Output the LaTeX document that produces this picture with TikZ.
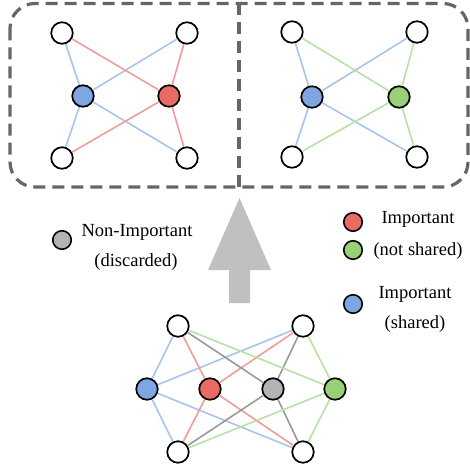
\documentclass[tikz,border=0pt]{standalone}
\usepackage{fontspec}
\setmainfont{Liberation Serif}
\definecolor{fillblue}{HTML}{7EA6E0}
\definecolor{fillred}{HTML}{EA6B66}
\definecolor{fillgreen}{HTML}{97D077}
\definecolor{fillgray}{HTML}{B3B3B3}
\definecolor{edgeblue}{HTML}{A9C4EB}
\definecolor{edgered}{HTML}{F19C99}
\definecolor{edgegreen}{HTML}{B9E0A5}
\definecolor{edgegray}{HTML}{999999}
\definecolor{framegray}{HTML}{666666}
\definecolor{arrowgray}{HTML}{C0C0C0}

\begin{document}
\begin{tikzpicture}[
        x=1pt, y=-1pt,
        neuron/.style={circle, draw, line width=1.7pt, minimum size=21.5pt, inner sep=0pt, fill=white},
        key/.style={circle, draw, line width=1.6pt, minimum size=18.5pt, inner sep=0pt},
        caption/.style={font=\fontsize{18.5}{22}\selectfont, inner sep=0pt, anchor=base},
        link/.style={line width=1.6pt},
        frame/.style={draw=framegray, line width=3.2pt, dash pattern=on 12pt off 7pt}
      ]
      \useasboundingbox (0,0) rectangle (470,468);
      % frames of the two pruned nets
      \draw[frame, rounded corners=25pt] (10,3.5) rectangle (468,187);
      \draw[frame] (239,3.5) -- (239,191);

      % left net
      \node[neuron] (a1) at (62,33) {};
      \node[neuron] (a2) at (187,33) {};
      \node[neuron, fill=fillblue] (ab) at (83,96) {};
      \node[neuron, fill=fillred] (ar) at (169,96) {};
      \node[neuron] (a3) at (62,158) {};
      \node[neuron] (a4) at (187,158) {};

      % right net
      \node[neuron] (b1) at (292,32) {};
      \node[neuron] (b2) at (417,32) {};
      \node[neuron, fill=fillblue] (bb) at (312,97) {};
      \node[neuron, fill=fillgreen] (bg) at (399,97) {};
      \node[neuron] (b3) at (292,157) {};
      \node[neuron] (b4) at (417,157) {};

      % full net
      \node[neuron] (c1) at (178,326) {};
      \node[neuron] (c2) at (303,326) {};
      \node[neuron, fill=fillblue] (cb) at (147,389) {};
      \node[neuron, fill=fillred] (cr) at (210,389) {};
      \node[neuron, fill=fillgray] (cx) at (273,389) {};
      \node[neuron, fill=fillgreen] (cg) at (335,389) {};
      \node[neuron] (c3) at (178,452) {};
      \node[neuron] (c4) at (303,452) {};

      \foreach \m/\c in {ab/edgeblue, ar/edgered}
        \foreach \o in {a1,a2,a3,a4}
          \draw[link, draw=\c] (\m) -- (\o);
      \foreach \m/\c in {bb/edgeblue, bg/edgegreen}
        \foreach \o in {b1,b2,b3,b4}
          \draw[link, draw=\c] (\m) -- (\o);
      \foreach \m/\c in {cb/edgeblue, cr/edgered, cx/edgegray, cg/edgegreen}
        \foreach \o in {c1,c2,c3,c4}
          \draw[link, draw=\c] (\m) -- (\o);

      % big arrow
      \fill[arrowgray] (229,303) -- (250,303) -- (250,270) -- (271,270)
        -- (239.5,198) -- (208,270) -- (229,270) -- cycle;

      % legend
      \node[key, fill=fillgray] (kx) at (62,240) {};
      \node[caption] (tx1) at (137,236) {Non-Important};
      \node[caption] (tx2) at (136,266) {(discarded)};
      \node[key, fill=fillred] (kr) at (353,222) {};
      \node[key, fill=fillgreen] (kg) at (353,250) {};
      \node[caption] (tr1) at (418,223) {Important};
      \node[caption] (tr2) at (418,255) {(not shared)};
      \node[key, fill=fillblue] (kb) at (353,304) {};
      \node[caption] (tb1) at (415,298) {Important};
      \node[caption] (tb2) at (415,328) {(shared)};
    \end{tikzpicture}
\end{document}
